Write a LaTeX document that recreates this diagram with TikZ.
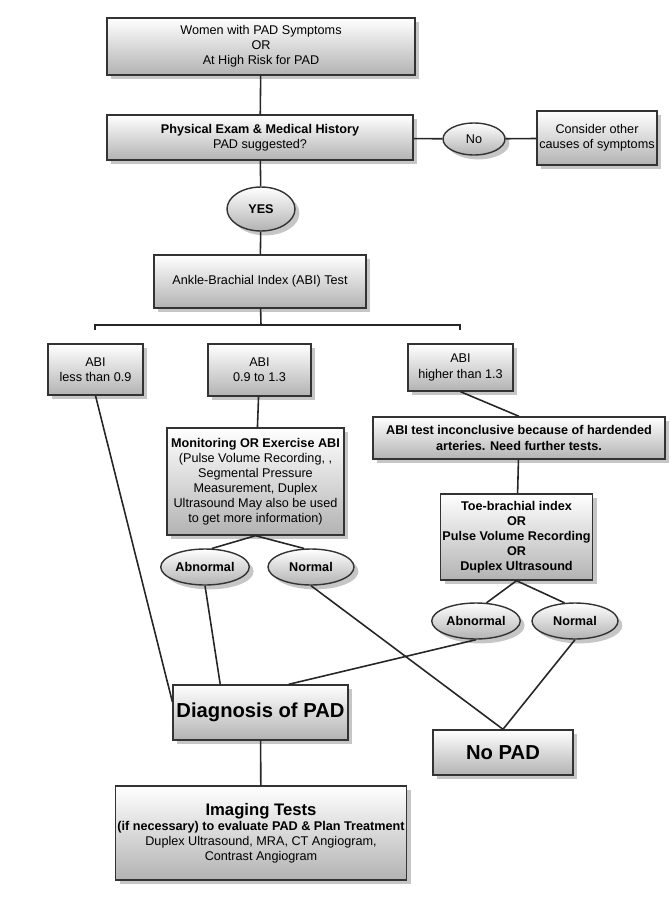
\documentclass[tikz,border=0pt]{standalone}
\usepackage{fontspec}
\setmainfont{Liberation Sans}
\usetikzlibrary{shapes.geometric,shadows,calc}
\begin{document}
\begin{tikzpicture}[x=0.02cm,y=-0.02cm,
  box/.style={draw=black!80,line width=0.8pt,top color=white,bottom color=black!30,
    drop shadow={opacity=0.45,shadow xshift=2.5pt,shadow yshift=-2.5pt},
    align=center,font=\fontsize{7.2}{8.6}\selectfont,inner sep=1pt},
  oval/.style={box,ellipse,minimum width=1.72cm,minimum height=0.72cm},
  line/.style={line width=0.9pt,black!85}]
\useasboundingbox (0,0) rectangle (671,900);

% top of chart
\node[box,minimum width=6.16cm,minimum height=1.14cm] (women) at (261,46.5)
  {Women with PAD Symptoms\\OR\\At High Risk for PAD};
\node[box,minimum width=6.12cm,minimum height=0.9cm] (phys) at (260,137.5)
  {\textbf{Physical Exam \& Medical History}\\PAD suggested?};
\node[oval,minimum width=1.24cm,minimum height=0.64cm] (no) at (474,139) {No};
\node[box,minimum width=2.4cm,minimum height=1.08cm] (other) at (597,138)
  {Consider other\\causes of symptoms};
\node[oval,minimum width=1.36cm,minimum height=0.88cm] (yes) at (261,209) {\textbf{YES}};
\node[box,minimum width=4.24cm,minimum height=1.06cm] (abi) at (260,281.5)
  {Ankle-Brachial Index (ABI) Test};

% ABI branches
\coordinate (bar) at (261,325);
\coordinate (barl) at (95,325);
\coordinate (barr) at (460,325);
\node[box,minimum width=1.9cm,minimum height=1.02cm] (less) at (95.5,369.5) {ABI\\less than 0.9};
\node[box,minimum width=2.06cm,minimum height=1.04cm] (mid) at (259.5,370) {ABI\\0.9 to 1.3};
\node[box,minimum width=2.1cm,minimum height=0.94cm] (high) at (460.5,367.5) {ABI\\higher than 1.3};
\node[box,minimum width=5.84cm,minimum height=0.84cm] (incon) at (519,438)
  {\textbf{ABI test inconclusive because of hardended}\\\textbf{arteries. Need further tests.}};
\node[box,minimum width=3.54cm,minimum height=2.14cm] (mon) at (255.5,481.5)
  {\textbf{Monitoring OR Exercise ABI}\\(Pulse Volume Recording, ,\\Segmental Pressure\\Measurement, Duplex\\Ultrasound May also be used\\to get more information)};
\node[box,minimum width=3.02cm,minimum height=1.72cm] (toe) at (516.5,537)
  {\textbf{Toe-brachial index}\\\textbf{OR}\\\textbf{Pulse Volume Recording}\\\textbf{OR}\\\textbf{Duplex Ultrasound}};
\node[oval] (ab1) at (205,567) {\textbf{Abnormal}};
\node[oval] (n1) at (311,567) {\textbf{Normal}};
\node[oval] (ab2) at (476,621) {\textbf{Abnormal}};
\node[oval] (n2) at (575,621) {\textbf{Normal}};

% outcomes
\node[box,minimum width=3.5cm,minimum height=1.1cm,font=\fontsize{11.5}{13}\selectfont\bfseries] (diag) at (260.5,712.5) {Diagnosis of PAD};
\node[box,minimum width=2.8cm,minimum height=0.9cm,font=\fontsize{11.5}{13}\selectfont\bfseries] (nopad) at (503,752.5) {No PAD};
\node[box,minimum width=5.8cm,minimum height=1.88cm] (img) at (261,833)
  {{\fontsize{9.5}{11}\selectfont\bfseries Imaging Tests}\\\textbf{(if necessary) to evaluate PAD \& Plan Treatment}\\Duplex Ultrasound, MRA, CT Angiogram,\\Contrast Angiogram};

% connectors
\draw[line] (women) -- (phys);
\draw[line] (phys) -- (no);
\draw[line] (no) -- (other);
\draw[line] (phys) -- (yes);
\draw[line] (yes) -- (abi);
\draw[line] (abi) -- (bar);
\draw[line] ($(barl)+(0,5)$) -- (barl) -- (barr) -- ($(barr)+(0,5)$);
\draw[line] (mid) -- (mon);
\draw[line] (high.south) -- (incon.north);
\draw[line] (incon) -- (toe);
\draw[line] (mon.south) -- (ab1.70);
\draw[line] (mon.south) -- (n1.110);
\draw[line] (toe.south) -- (ab2.60);
\draw[line] (toe.south) -- (n2.120);
\draw[line] (less.south) -- (diag.173);
\draw[line] (ab1.south) -- (diag.145);
\draw[line] (ab2.south) -- (diag.45);
\draw[line] (n1.south) -- (nopad.north);
\draw[line] (n2.south) -- (nopad.north);
\draw[line] (diag) -- (img);
\end{tikzpicture}
\end{document}
